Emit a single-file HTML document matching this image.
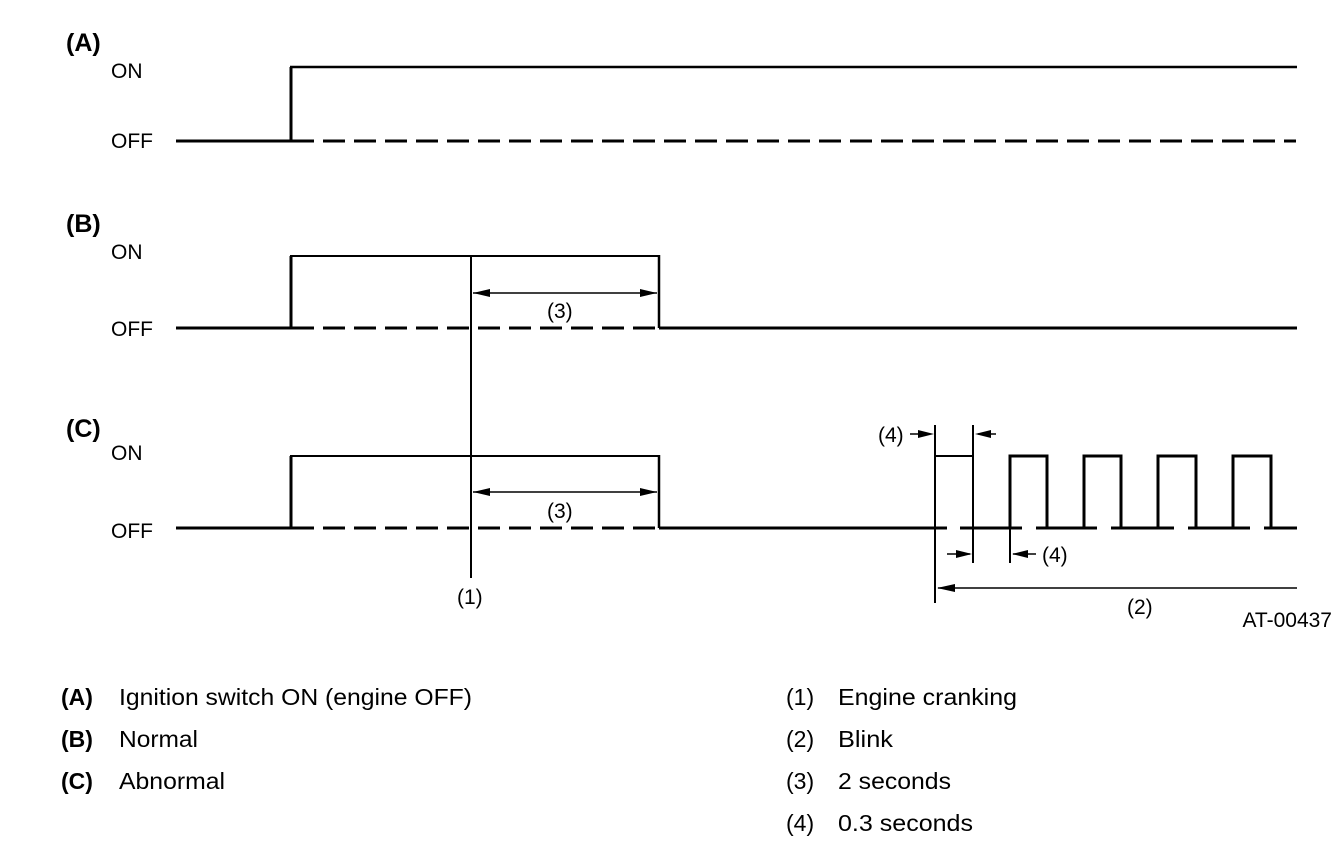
<!DOCTYPE html>
<html><head><meta charset="utf-8"><style>
html,body{margin:0;padding:0;background:#fff;}
svg{display:block;}
text{font-family:"Liberation Sans",sans-serif;fill:#000;}
</style></head><body>
<svg width="1344" height="864" viewBox="0 0 1344 864" xmlns="http://www.w3.org/2000/svg">
<g stroke="#000" fill="none">
<line x1="176" y1="141" x2="292" y2="141" stroke-width="3"/>
<line x1="292" y1="141" x2="1296" y2="141" stroke-width="3" stroke-dasharray="22 9"/>
<line x1="291" y1="141" x2="291" y2="67" stroke-width="3"/>
<line x1="290" y1="67" x2="1297" y2="67" stroke-width="2.5"/>
<line x1="176" y1="328" x2="292" y2="328" stroke-width="3"/>
<line x1="292" y1="328" x2="659" y2="328" stroke-width="3" stroke-dasharray="22 9"/>
<line x1="659" y1="328" x2="1297" y2="328" stroke-width="3"/>
<line x1="291" y1="328" x2="291" y2="256" stroke-width="3"/>
<line x1="290" y1="256" x2="660" y2="256" stroke-width="2"/>
<line x1="659" y1="255" x2="659" y2="328" stroke-width="2.5"/>
<line x1="473" y1="293" x2="657" y2="293" stroke-width="1.5"/>
<line x1="176" y1="528" x2="292" y2="528" stroke-width="3"/>
<line x1="292" y1="528" x2="659" y2="528" stroke-width="3" stroke-dasharray="22 9"/>
<line x1="659" y1="528" x2="947" y2="528" stroke-width="3"/>
<line x1="960" y1="528" x2="1022" y2="528" stroke-width="3"/>
<line x1="1036" y1="528" x2="1097" y2="528" stroke-width="3"/>
<line x1="1111" y1="528" x2="1174" y2="528" stroke-width="3"/>
<line x1="1188" y1="528" x2="1250" y2="528" stroke-width="3"/>
<line x1="1264" y1="528" x2="1297" y2="528" stroke-width="3"/>
<line x1="291" y1="528" x2="291" y2="456" stroke-width="3"/>
<line x1="290" y1="456" x2="660" y2="456" stroke-width="2"/>
<line x1="659" y1="455" x2="659" y2="528" stroke-width="2.5"/>
<line x1="473" y1="492" x2="657" y2="492" stroke-width="1.5"/>
<line x1="471" y1="256" x2="471" y2="578" stroke-width="2"/>
<line x1="935" y1="425" x2="935" y2="603" stroke-width="2"/>
<line x1="973" y1="425" x2="973" y2="563" stroke-width="2"/>
<line x1="1010" y1="528" x2="1010" y2="563" stroke-width="2"/>
<line x1="934" y1="456" x2="973" y2="456" stroke-width="2"/>
<path d="M1010 528 V456 H1047 V528" stroke-width="3"/>
<path d="M1084 528 V456 H1121 V528" stroke-width="3"/>
<path d="M1158 528 V456 H1196 V528" stroke-width="3"/>
<path d="M1233 528 V456 H1271 V528" stroke-width="3"/>
<line x1="910" y1="434" x2="930" y2="434" stroke-width="1.5"/>
<line x1="978" y1="434" x2="996" y2="434" stroke-width="1.5"/>
<line x1="947" y1="554" x2="970" y2="554" stroke-width="1.5"/>
<line x1="1013" y1="554" x2="1036" y2="554" stroke-width="1.5"/>
<line x1="938" y1="588" x2="1297" y2="588" stroke-width="1.5"/>
</g>
<g fill="#000">
<polygon points="473,293 490,289 490,297"/>
<polygon points="657,293 640,289 640,297"/>
<polygon points="473,492 490,488 490,496"/>
<polygon points="657,492 640,488 640,496"/>
<polygon points="934,434 918,430 918,438"/>
<polygon points="975,434 991,430 991,438"/>
<polygon points="972,554 956,550 956,558"/>
<polygon points="1012,554 1028,550 1028,558"/>
<polygon points="937,588 955,584 955,592"/>
</g>
<g font-size="21">
<text x="66" y="51" font-weight="bold" font-size="25">(A)</text>
<text x="111" y="78">ON</text>
<text x="111" y="148">OFF</text>
<text x="66" y="232" font-weight="bold" font-size="25">(B)</text>
<text x="111" y="259">ON</text>
<text x="111" y="336">OFF</text>
<text x="66" y="437" font-weight="bold" font-size="25">(C)</text>
<text x="111" y="460">ON</text>
<text x="111" y="538">OFF</text>
<text x="547" y="318">(3)</text>
<text x="547" y="518">(3)</text>
<text x="457" y="604">(1)</text>
<text x="878" y="442">(4)</text>
<text x="1042" y="562">(4)</text>
<text x="1127" y="614">(2)</text>
<text x="1332" y="627" text-anchor="end">AT-00437</text>
</g>
<g font-size="23">
<text x="61" y="705" font-weight="bold">(A)</text>
<text x="119" y="705" textLength="353" lengthAdjust="spacingAndGlyphs">Ignition switch ON (engine OFF)</text>
<text x="61" y="747" font-weight="bold">(B)</text>
<text x="119" y="747" textLength="79" lengthAdjust="spacingAndGlyphs">Normal</text>
<text x="61" y="789" font-weight="bold">(C)</text>
<text x="119" y="789" textLength="106" lengthAdjust="spacingAndGlyphs">Abnormal</text>
<text x="786" y="705">(1)</text>
<text x="838" y="705" textLength="179" lengthAdjust="spacingAndGlyphs">Engine cranking</text>
<text x="786" y="747">(2)</text>
<text x="838" y="747" textLength="55" lengthAdjust="spacingAndGlyphs">Blink</text>
<text x="786" y="789">(3)</text>
<text x="838" y="789" textLength="113" lengthAdjust="spacingAndGlyphs">2 seconds</text>
<text x="786" y="831">(4)</text>
<text x="838" y="831" textLength="135" lengthAdjust="spacingAndGlyphs">0.3 seconds</text>
</g>
</svg>
</body></html>
